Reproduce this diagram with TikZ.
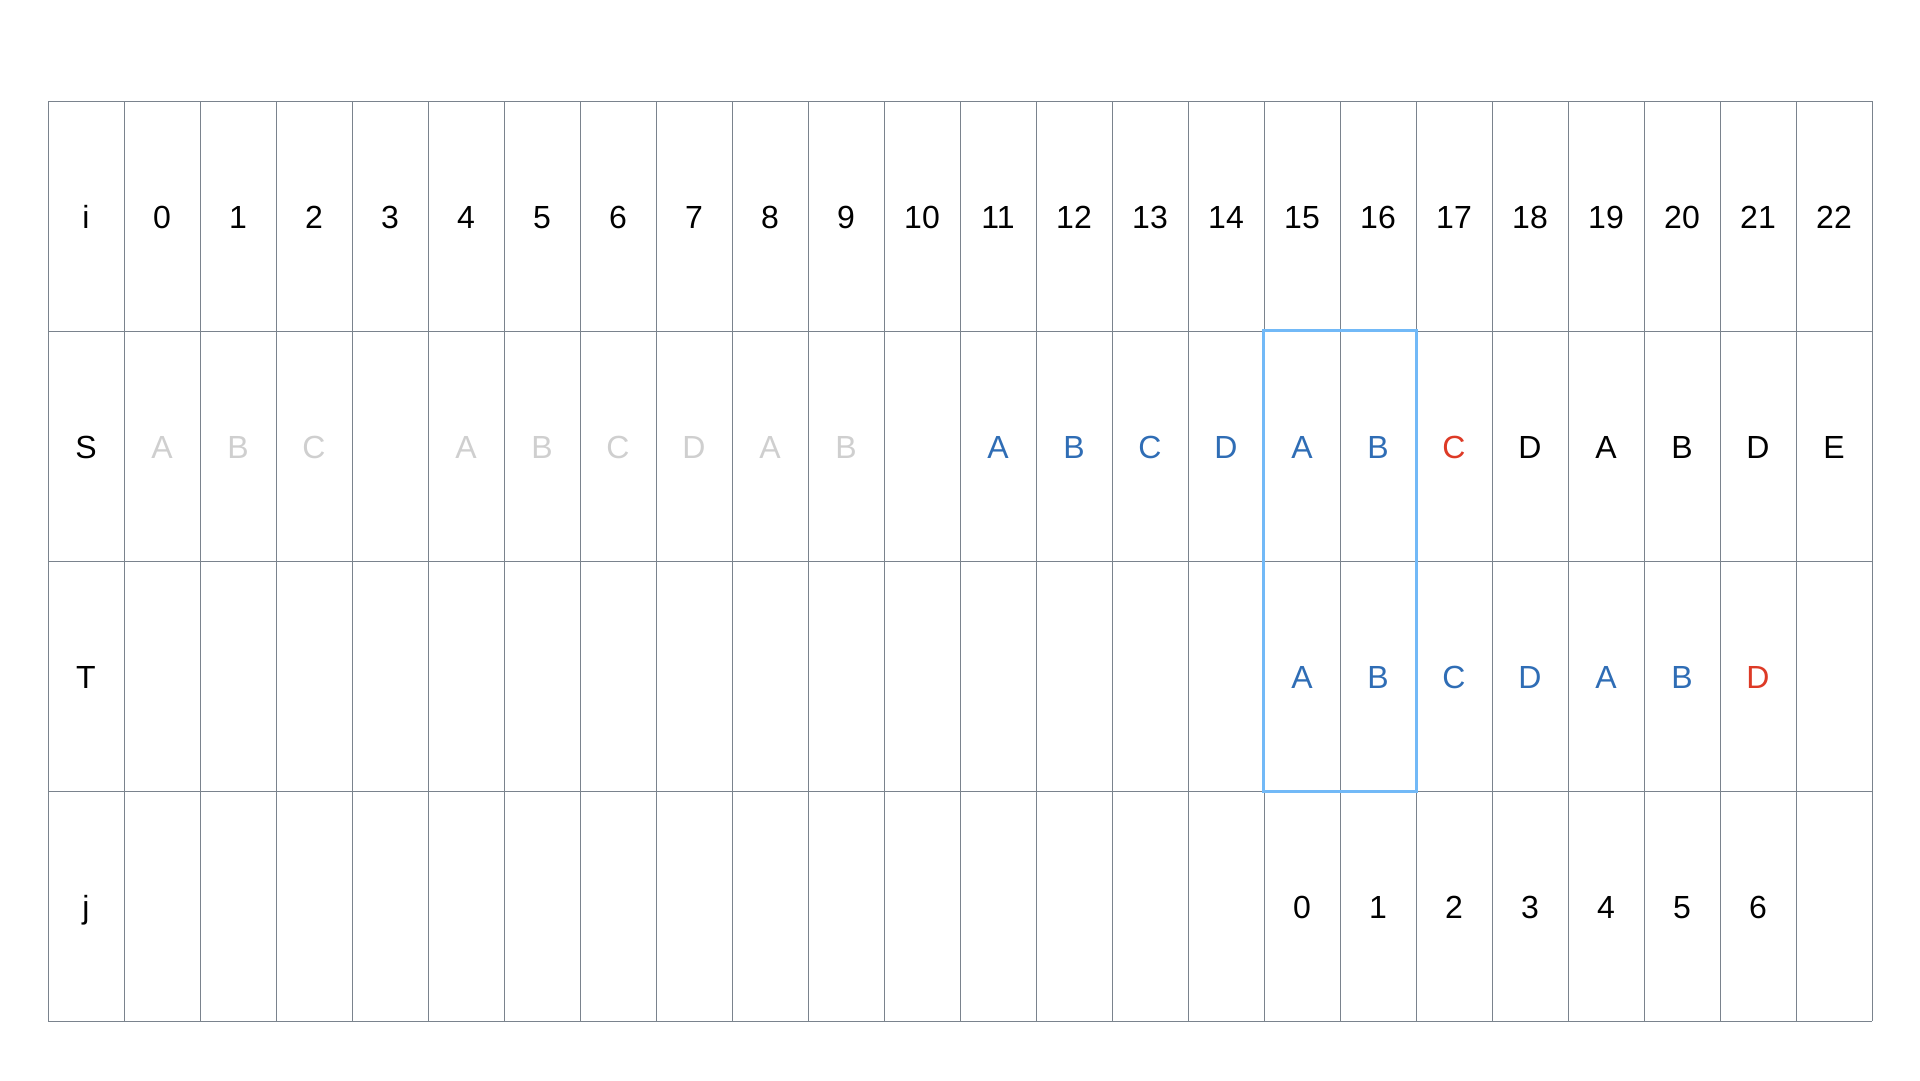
\documentclass[tikz,border=0pt]{standalone}
\usepackage{fontspec}
\setmainfont{Liberation Sans}
\definecolor{gridc}{HTML}{7A838D}
\definecolor{fadec}{HTML}{CFCFCF}
\definecolor{bluec}{HTML}{2F6DB5}
\definecolor{redc}{HTML}{DD3A26}
\definecolor{boxc}{HTML}{72B9F7}
\tikzset{
  cell/.style={minimum width=76pt,minimum height=230pt,inner sep=0pt,font=\fontsize{32}{36}\selectfont,text=black,text height=24pt,text depth=0pt},
  fade/.style={text=fadec},
  hl/.style={text=bluec},
  bad/.style={text=redc},
  gridline/.style={draw=gridc,line width=1pt},
  window/.style={draw=boxc,line width=3pt}
}
\begin{document}
\begin{tikzpicture}[x=1pt,y=-1pt]
\useasboundingbox (0,0) rectangle (1920,1080);
% grid
\foreach \k in {0,...,24}{
  \draw[gridline] (48+\k*76,101) -- (48+\k*76,1021);
}
\foreach \r in {0,...,4}{
  \draw[gridline] (48,101+\r*230) -- (1872,101+\r*230);
}
% row labels
\node[cell] (li) at (86,216) {i};
\node[cell] (lS) at (86,446) {S};
\node[cell] (lT) at (86,676) {T};
\node[cell] (lj) at (86,906) {j};
% i row
\foreach \n in {0,...,22}{
  \node[cell] (i\n) at (162+\n*76,216) {\n};
}
% S row
\foreach \n/\t/\s in {0/A/fade,1/B/fade,2/C/fade,4/A/fade,5/B/fade,6/C/fade,7/D/fade,8/A/fade,9/B/fade,
  11/A/hl,12/B/hl,13/C/hl,14/D/hl,15/A/hl,16/B/hl,17/C/bad,18/D/cell,19/A/cell,20/B/cell,21/D/cell,22/E/cell}{
  \node[cell,\s] (s\n) at (162+\n*76,446) {\t};
}
% T row
\foreach \n/\t/\s in {15/A/hl,16/B/hl,17/C/hl,18/D/hl,19/A/hl,20/B/hl,21/D/bad}{
  \node[cell,\s] (t\n) at (162+\n*76,676) {\t};
}
% j row
\foreach \n/\t in {15/0,16/1,17/2,18/3,19/4,20/5,21/6}{
  \node[cell] (j\n) at (162+\n*76,906) {\t};
}
% window
\draw[window] (s15.north west) rectangle (t16.south east);
\end{tikzpicture}
\end{document}
